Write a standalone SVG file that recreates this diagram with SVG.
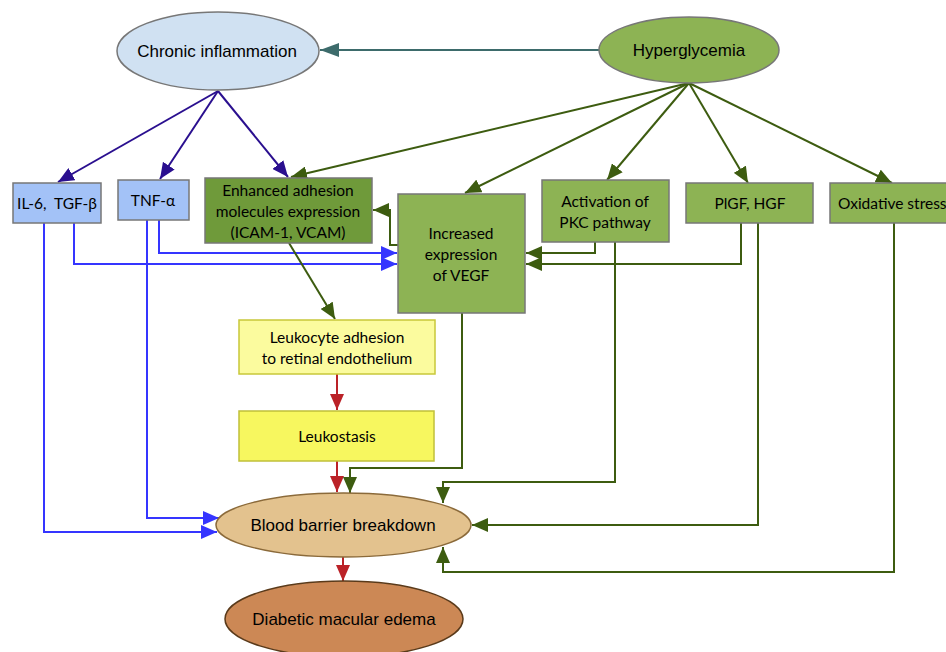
<svg xmlns="http://www.w3.org/2000/svg" width="946" height="652" viewBox="0 0 946 652">
<defs>
<style>
.ell{font-family:"Liberation Sans",Arial,sans-serif;font-size:17px;fill:#000;text-anchor:middle}
.box{font-family:Lato,"Liberation Sans",sans-serif;font-size:15.5px;fill:#000;text-anchor:middle}
.c{fill:none;stroke-width:2}
.nv{stroke:#2a0f8f}
.bl{stroke:#3535ff}
.gr{stroke:#3d5c10}
.rd{stroke:#bb2228}
.tl{stroke:#3d6b6b}
</style>
<marker id="mNv" markerUnits="userSpaceOnUse" markerWidth="17" markerHeight="14" refX="16" refY="7" orient="auto"><path d="M0,0 L16,7 L0,14 z" fill="#2a0f8f"/></marker>
<marker id="mBl" markerUnits="userSpaceOnUse" markerWidth="17" markerHeight="14" refX="16" refY="7" orient="auto"><path d="M0,0 L16,7 L0,14 z" fill="#3535ff"/></marker>
<marker id="mGr" markerUnits="userSpaceOnUse" markerWidth="17" markerHeight="14" refX="16" refY="7" orient="auto"><path d="M0,0 L16,7 L0,14 z" fill="#3d5c10"/></marker>
<marker id="mRd" markerUnits="userSpaceOnUse" markerWidth="17" markerHeight="14" refX="16" refY="7" orient="auto"><path d="M0,0 L16,7 L0,14 z" fill="#bb2228"/></marker>
<marker id="mTl" markerUnits="userSpaceOnUse" markerWidth="20" markerHeight="14" refX="19" refY="7" orient="auto"><path d="M0,0 L19,7 L0,14 z" fill="#3d6b6b"/></marker>
</defs>
<rect width="946" height="652" fill="#fff"/>

<g id="connectors">
<path class="c tl" d="M599,50 L320,50" marker-end="url(#mTl)"/>
<path class="c nv" d="M218,91 L58,182" marker-end="url(#mNv)"/>
<path class="c nv" d="M218,91 L160,179" marker-end="url(#mNv)"/>
<path class="c nv" d="M218,91 L288,177" marker-end="url(#mNv)"/>
<path class="c gr" d="M689,83 L291,177" marker-end="url(#mGr)"/>
<path class="c gr" d="M689,83 L465,193" marker-end="url(#mGr)"/>
<path class="c gr" d="M689,83 L607,180" marker-end="url(#mGr)"/>
<path class="c gr" d="M689,83 L748,183" marker-end="url(#mGr)"/>
<path class="c gr" d="M689,83 L892,183" marker-end="url(#mGr)"/>
<path class="c gr" d="M398,245 L390,245 L390,210 L373,210" marker-end="url(#mGr)"/>
<path class="c bl" d="M74,223 L74,264 L397,264" marker-end="url(#mBl)"/>
<path class="c bl" d="M159,220 L159,253 L397,253" marker-end="url(#mBl)"/>
<path class="c bl" d="M44,223 L44,532 L217,532" marker-end="url(#mBl)"/>
<path class="c bl" d="M147,220 L147,518 L219,518" marker-end="url(#mBl)"/>
<path class="c gr" d="M595,242 L595,253 L526,253" marker-end="url(#mGr)"/>
<path class="c gr" d="M741,223 L741,264 L526,264" marker-end="url(#mGr)"/>
<path class="c gr" d="M289,243 L335,319" marker-end="url(#mGr)"/>
<path class="c rd" d="M337,374 L337,410" marker-end="url(#mRd)"/>
<path class="c rd" d="M337,461 L337,492" marker-end="url(#mRd)"/>
<path class="c rd" d="M343,557 L343,581" marker-end="url(#mRd)"/>
<path class="c gr" d="M462,313 L462,468 L350,468 L350,493" marker-end="url(#mGr)"/>
<path class="c gr" d="M615,242 L615,482 L443,482 L443,503" marker-end="url(#mGr)"/>
<path class="c gr" d="M758,223 L758,525 L472,525" marker-end="url(#mGr)"/>
<path class="c gr" d="M894,223 L894,572 L443,572 L443,547" marker-end="url(#mGr)"/>
</g>

<g id="chronic-inflammation">
<ellipse cx="218" cy="51" rx="101" ry="39" fill="#d0e1f2" stroke="#777" stroke-width="1.5"/>
<text class="ell" x="217" y="57">Chronic inflammation</text>
</g>
<g id="hyperglycemia">
<ellipse cx="689" cy="50" rx="90" ry="33" fill="#8db354" stroke="#777" stroke-width="1.5"/>
<text class="ell" x="689" y="56">Hyperglycemia</text>
</g>
<g id="il6">
<rect x="13" y="183" width="88" height="40" fill="#a3c2f7" stroke="#777" stroke-width="1.5"/>
<text class="box" x="57" y="209" xml:space="preserve">IL-6,  TGF-β</text>
</g>
<g id="tnf">
<rect x="118" y="180" width="71" height="40" fill="#a3c2f7" stroke="#777" stroke-width="1.5"/>
<text class="box" x="153" y="206">TNF-α</text>
</g>
<g id="adhesion">
<rect x="205" y="178" width="167" height="65" fill="#6f9a3a" stroke="#777" stroke-width="1.5"/>
<text class="box" x="288" y="196">Enhanced adhesion</text>
<text class="box" x="288" y="217">molecules expression</text>
<text class="box" x="288" y="238">(ICAM-1, VCAM)</text>
</g>
<g id="vegf">
<rect x="398" y="194" width="127" height="119" fill="#8db354" stroke="#777" stroke-width="1.5"/>
<text class="box" x="461" y="239">Increased</text>
<text class="box" x="461" y="260">expression</text>
<text class="box" x="461" y="281">of VEGF</text>
</g>
<g id="pkc">
<rect x="542" y="180" width="127" height="62" fill="#8db354" stroke="#777" stroke-width="1.5"/>
<text class="box" x="605" y="207">Activation of</text>
<text class="box" x="605" y="228">PKC pathway</text>
</g>
<g id="plgf">
<rect x="686" y="183" width="127" height="40" fill="#8db354" stroke="#777" stroke-width="1.5"/>
<text class="box" x="750" y="209">PlGF, HGF</text>
</g>
<g id="oxidative">
<rect x="830" y="183" width="130" height="40" fill="#8db354" stroke="#777" stroke-width="1.5"/>
<text class="box" x="838" y="209" style="text-anchor:start">Oxidative stress</text>
</g>
<g id="leukocyte">
<rect x="239" y="320" width="196" height="54" fill="#fbfb9e" stroke="#c8c83a" stroke-width="1.5"/>
<text class="box" x="337" y="343">Leukocyte adhesion</text>
<text class="box" x="337" y="364">to retinal endothelium</text>
</g>
<g id="leukostasis">
<rect x="239" y="411" width="195" height="50" fill="#f7f75f" stroke="#c0c03a" stroke-width="1.5"/>
<text class="box" x="337" y="442">Leukostasis</text>
</g>
<g id="bbb">
<ellipse cx="343.5" cy="525" rx="127.5" ry="32" fill="#e3c28e" stroke="#8b6a3a" stroke-width="1.5"/>
<text class="ell" x="343" y="531">Blood barrier breakdown</text>
</g>
<g id="dme">
<ellipse cx="344" cy="619" rx="119" ry="38" fill="#cc8855" stroke="#5a3a1a" stroke-width="1.5"/>
<text class="ell" x="344" y="625">Diabetic macular edema</text>
</g>
</svg>
